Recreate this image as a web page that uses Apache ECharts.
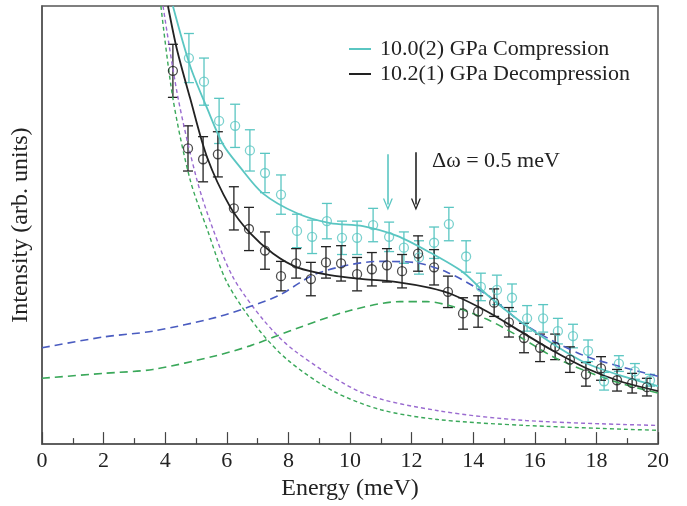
<!DOCTYPE html>
<html>
<head>
<meta charset="utf-8">
<title>Intensity vs Energy</title>
<script src="https://cdn.jsdelivr.net/npm/echarts@6/dist/echarts.min.js"></script>
<style>
  html, body { margin: 0; padding: 0; background: #fff; }
  #chart { width: 687px; height: 506px; }
</style>
</head>
<body>
<div id="chart"></div>
<script>
// measured data points, 10.2(1) GPa decompression (black)
var blackX = [4.25, 4.74, 5.23, 5.71, 6.23, 6.72, 7.24, 7.76, 8.25, 8.73, 9.22, 9.71, 10.23, 10.71, 11.20, 11.69,
  12.21, 12.73, 13.18, 13.67, 14.16, 14.68, 15.16, 15.65, 16.17, 16.66, 17.14, 17.66, 18.15, 18.67, 19.16, 19.64];
var blackY = [38.0, 30.1, 29.0, 29.5, 24.0, 21.9, 19.7, 17.1, 18.4, 16.8, 18.5, 18.4, 17.3, 17.8, 18.2, 17.6,
  19.4, 18.0, 15.5, 13.3, 13.5, 14.4, 12.4, 10.8, 9.8, 9.9, 8.6, 7.1, 7.7, 6.5, 6.2, 5.8];
var blackErr = [2.7, 2.3, 2.3, 2.3, 2.2, 2.2, 1.9, 1.5, 1.5, 1.7, 1.6, 1.8, 1.7, 1.7, 1.7, 1.7,
  1.8, 1.8, 1.6, 1.6, 1.6, 1.4, 1.5, 1.5, 1.4, 1.3, 1.3, 1.2, 1.2, 1.1, 1.0, 0.9];

// measured data points, 10.0(2) GPa compression (cyan)
var cyanX = [4.77, 5.26, 5.75, 6.27, 6.75, 7.24, 7.76, 8.28, 8.77, 9.25, 9.74, 10.23, 10.75, 11.27, 11.75, 12.24,
  12.73, 13.21, 13.77, 14.25, 14.77, 15.26, 15.75, 16.27, 16.75, 17.24, 17.73, 18.25, 18.73, 19.25, 19.74];
var cyanY = [39.3, 36.9, 32.9, 32.4, 29.9, 27.6, 25.4, 21.7, 21.1, 22.7, 21.0, 21.0, 22.3, 21.1, 20.0, 19.0,
  20.5, 22.4, 19.1, 16.0, 15.7, 14.9, 12.8, 12.8, 11.5, 11.0, 9.5, 6.4, 8.2, 7.4, 6.5];
var cyanErr = [2.5, 2.4, 2.3, 2.2, 2.1, 2.0, 2.0, 1.7, 1.7, 1.8, 1.7, 1.7, 1.7, 1.5, 1.6, 1.7,
  1.6, 1.7, 1.6, 1.4, 1.5, 1.4, 1.3, 1.4, 1.3, 1.2, 1.1, 0.9, 0.8, 0.8, 0.6];

// fit curves
var cyanFitX = [4.25, 4.81, 5.36, 5.88, 6.43, 7.18, 8.28, 9.35, 10.42, 11.53, 12.60, 13.67, 14.45, 15.52, 16.59, 17.69, 18.77, 20.0];
var cyanFitY = [44.6, 38.5, 34.2, 30.5, 28.2, 25.5, 23.5, 22.5, 22.2, 21.2, 19.5, 17.5, 15.2, 12.5, 10.2, 8.2, 7.0, 5.9];

var blackFitX = [4.09, 4.38, 4.81, 5.36, 6.10, 6.75, 7.50, 8.28, 9.35, 10.42, 11.53, 12.60, 13.34, 14.45, 15.52, 16.59, 17.69, 18.77, 20.0];
var blackFitY = [44.6, 40.2, 35.2, 29.2, 24.2, 21.5, 19.4, 18.0, 17.2, 16.8, 16.5, 15.9, 15.2, 13.5, 11.5, 9.5, 7.7, 6.4, 5.4];

var blueDhoX = [0.0, 1.98, 3.60, 5.65, 6.75, 7.73, 8.80, 9.90, 10.97, 12.05, 13.15, 14.45, 15.52, 16.59, 17.69, 18.77, 20.0];
var blueDhoY = [9.8, 10.9, 11.5, 12.9, 14.0, 15.2, 17.2, 18.2, 18.6, 18.5, 17.5, 15.2, 12.5, 10.5, 8.9, 7.9, 6.9];

var greenDhoX = [0.0, 1.98, 3.60, 5.65, 6.75, 8.38, 10.0, 11.62, 12.5, 13.34, 14.45, 15.52, 16.59, 17.69, 18.77, 20.0];
var greenDhoY = [6.7, 7.2, 7.6, 9.0, 10.0, 11.9, 13.6, 14.5, 14.5, 14.0, 12.7, 10.9, 8.9, 7.4, 6.2, 5.2];

var greenTailX = [3.86, 4.25, 4.81, 5.36, 6.0, 7.0, 8.0, 9.45, 11.0, 12.86, 15.71, 20.0];
var greenTailY = [44.6, 35.2, 26.9, 21.9, 16.5, 11.8, 8.5, 5.4, 3.5, 2.5, 1.9, 1.4];

var purpleTailX = [3.93, 4.42, 5.03, 5.55, 6.2, 7.2, 8.2, 10.42, 12.86, 15.71, 20.0];
var purpleTailY = [44.6, 35.2, 26.9, 21.9, 17.0, 12.6, 9.5, 5.2, 3.4, 2.4, 1.9];

var xTicks = [0, 2, 4, 6, 8, 10, 12, 14, 16, 18, 20];

var CYAN = "#5ac6c2";
var BLACK = "#222222";
var FONT = "Liberation Serif";
var CHEVRON = "path://M0,12 L5,0 L10,12 L8.6,12 L5,3.2 L1.4,12 Z";

function pairs(xs, ys) {
  return xs.map(function (x, i) { return [x, ys[i]]; });
}

function curve(name, xs, ys, color, dash, width) {
  return {
    name: name,
    type: "line",
    data: pairs(xs, ys),
    symbol: "none",
    smooth: 0.3,
    clip: true,
    lineStyle: { color: color, width: width || 1.6, type: dash || "solid" },
    itemStyle: { color: color },
    z: 3,
  };
}

function errorBars(xs, ys, es, color) {
  return {
    type: "custom",
    data: xs.map(function (x, i) { return [x, ys[i] - es[i], ys[i] + es[i]]; }),
    encode: { x: 0, y: [1, 2] },
    clip: true,
    renderItem: function (params, api) {
      var lo = api.coord([api.value(0), api.value(1)]);
      var hi = api.coord([api.value(0), api.value(2)]);
      var w = 5;
      var st = { stroke: color, lineWidth: 1.3, fill: null };
      return {
        type: "group",
        children: [
          { type: "line", shape: { x1: lo[0], y1: lo[1], x2: hi[0], y2: hi[1] }, style: st },
          { type: "line", shape: { x1: lo[0] - w, y1: lo[1], x2: lo[0] + w, y2: lo[1] }, style: st },
          { type: "line", shape: { x1: hi[0] - w, y1: hi[1], x2: hi[0] + w, y2: hi[1] }, style: st },
        ],
      };
    },
    z: 2,
  };
}

function points(xs, ys, color) {
  return {
    type: "scatter",
    data: pairs(xs, ys),
    symbol: "circle",
    symbolSize: 9,
    clip: true,
    itemStyle: { color: "rgba(0,0,0,0)", borderColor: color, borderWidth: 1.3 },
    z: 4,
  };
}

function arrow(x, y0, y1, color) {
  return {
    silent: true,
    symbol: ["none", CHEVRON],
    symbolSize: [10, 12],
    label: { show: false },
    lineStyle: { color: color, width: 1.6, type: "solid" },
    data: [[{ coord: [x, y0] }, { coord: [x, y1] }]],
  };
}

var chart = echarts.init(document.getElementById("chart"));

var cyanFit = curve("10.0(2) GPa Compression", cyanFitX, cyanFitY, CYAN, "solid", 1.8);
cyanFit.markLine = arrow(11.23, 29.5, 24.4, CYAN);
var blackFit = curve("10.2(1) GPa Decompression", blackFitX, blackFitY, BLACK, "solid", 1.8);
blackFit.markLine = arrow(12.14, 29.7, 24.4, BLACK);

chart.setOption({
  animation: false,
  backgroundColor: "#fff",
  textStyle: { fontFamily: FONT, color: "#222" },
  grid: {
    left: 42, right: 29, top: 6, bottom: 54,
    show: true, borderColor: "#555", borderWidth: 1.5, backgroundColor: "transparent",
  },
  legend: {
    data: [
      { name: "10.0(2) GPa Compression", icon: "rect" },
      { name: "10.2(1) GPa Decompression", icon: "rect" },
    ],
    orient: "vertical",
    left: 344,
    top: 33,
    itemWidth: 22,
    itemHeight: 2,
    itemGap: 3,
    textStyle: { fontFamily: FONT, fontSize: 22, color: "#222", padding: [0, 0, 0, 4] },
  },
  xAxis: {
    type: "value",
    min: xTicks[0],
    max: xTicks[xTicks.length - 1],
    interval: xTicks[1] - xTicks[0],
    name: "Energy (meV)",
    nameLocation: "middle",
    nameGap: 24,
    nameTextStyle: { fontFamily: FONT, fontSize: 24, color: "#222" },
    axisLine: { show: true, lineStyle: { color: "#555", width: 1.5 } },
    axisTick: { show: true, inside: true, length: 12, lineStyle: { color: "#444", width: 1.2 } },
    minorTick: { show: true, splitNumber: 2, length: 6, lineStyle: { color: "#444", width: 1.2 } },
    axisLabel: { margin: 6, fontFamily: FONT, fontSize: 22, color: "#222" },
    splitLine: { show: false },
  },
  yAxis: {
    type: "value",
    min: 0,
    max: 44.6,
    name: "Intensity (arb. units)",
    nameLocation: "middle",
    nameGap: 9,
    nameTextStyle: { fontFamily: FONT, fontSize: 24, color: "#222" },
    axisLine: { show: true, lineStyle: { color: "#555", width: 1.5 } },
    axisTick: { show: false },
    axisLabel: { show: false },
    splitLine: { show: false },
  },
  graphic: [
    {
      type: "text",
      left: 432,
      top: 150,
      style: { text: "Δω = 0.5 meV", fontFamily: FONT, fontSize: 22, fill: "#222" },
    },
  ],
  series: [
    curve("purple", purpleTailX, purpleTailY, "#9a6bd0", [4, 3], 1.4),
    curve("greenTail", greenTailX, greenTailY, "#3aa85a", [4, 3], 1.4),
    curve("blue", blueDhoX, blueDhoY, "#4a5cc0", [8, 5], 1.6),
    curve("green", greenDhoX, greenDhoY, "#3aa85a", [8, 5], 1.6),
    errorBars(cyanX, cyanY, cyanErr, CYAN),
    points(cyanX, cyanY, CYAN),
    errorBars(blackX, blackY, blackErr, BLACK),
    points(blackX, blackY, BLACK),
    cyanFit,
    blackFit,
  ],
});
</script>
</body>
</html>
